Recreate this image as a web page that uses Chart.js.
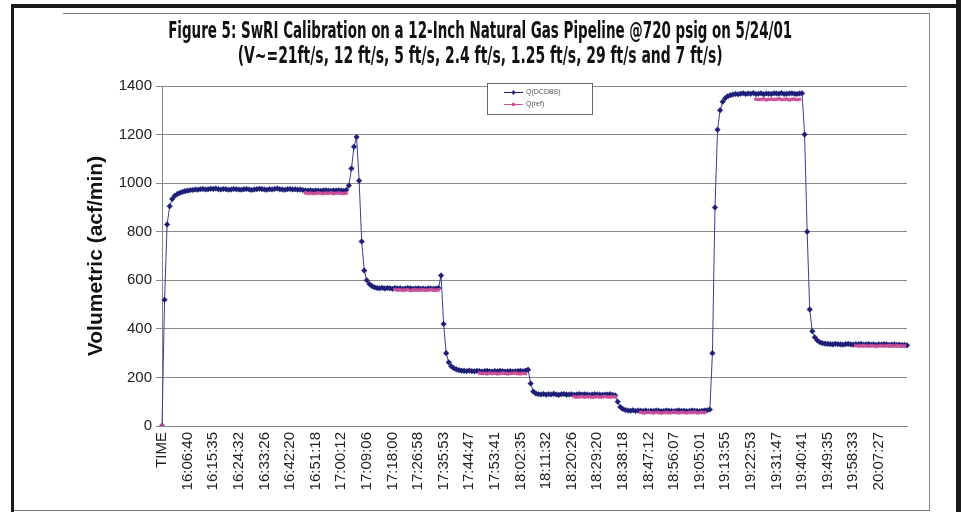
<!DOCTYPE html>
<html><head><meta charset="utf-8">
<script src="https://cdn.jsdelivr.net/npm/chart.js@4.4.1/dist/chart.umd.min.js"></script>
<style>
html,body{margin:0;padding:0;background:#fff;width:961px;height:512px;overflow:hidden;}
#wrap{position:relative;width:961px;height:512px;background:#fff;}
canvas{position:absolute;left:0;top:0;}
.b{position:absolute;}
.t{position:absolute;left:0;width:961px;text-align:center;white-space:nowrap;font-family:"Liberation Sans Narrow","DejaVu Sans Condensed",sans-serif;font-weight:bold;font-size:23px;color:#111;line-height:24px;}
.t span{display:inline-block;transform-origin:center center;}
</style></head><body>
<div id="wrap">
<canvas id="c" width="961" height="512"></canvas>
<div class="b" style="left:11px;top:4px;width:950px;height:4px;background:#1a1a1a"></div>
<div class="b" style="left:11px;top:4px;width:3px;height:508px;background:#1a1a1a"></div>
<div class="b" style="left:956px;top:0;width:5px;height:512px;background:#1a1a1a"></div>
<div class="b" style="left:63px;top:13px;width:867px;height:1px;background:#777"></div>
<div class="b" style="left:929px;top:13px;width:1px;height:498px;background:#888"></div>
<div class="b" style="left:14px;top:510px;width:916px;height:1px;background:#777"></div>
<div class="t" id="t1" style="top:18px"><span>Figure 5: SwRI Calibration on a 12-Inch Natural Gas Pipeline @720 psig on 5/24/01</span></div>
<div class="t" id="t2" style="top:43px"><span>(V~=21ft/s, 12 ft/s, 5 ft/s, 2.4 ft/s, 1.25 ft/s, 29 ft/s and 7 ft/s)</span></div>
</div>
<script>
const tickLabels = ['TIME','16:06:40','16:15:35','16:24:32','16:33:26','16:42:20','16:51:18','17:00:12','17:09:06','17:18:00','17:26:58','17:35:53','17:44:47','17:53:41','18:02:35','18:11:32','18:20:26','18:29:20','18:38:18','18:47:12','18:56:07','19:05:01','19:13:55','19:22:53','19:31:47','19:40:41','19:49:35','19:58:33','20:07:27'];

const seriesNames = ['Q(DCDBS)', 'Q(ref)'];

const qDcdbs = [
0,520,830,905,935,948,955,960,964,967,969,
971,972,974,973,975,976,974,975,977,976,
978,975,974,976,975,973,974,976,975,974,
973,975,976,974,972,974,975,977,976,974,
973,975,974,976,978,975,974,973,975,976,
974,975,973,974,972,
970,969,971,968,970,969,968,970,971,969,968,970,969,971,970,968,972,990,
1060,1150,1190,1010,760,640,600,585,576,571,
568,567,569,566,568,567,565,568,566,567,565,566,568,567,565,566,567,565,566,564,567,566,565,566,568,
620,420,300,262,246,238,233,230,228,227,226,
228,226,225,227,226,224,226,227,225,224,226,225,227,226,224,225,226,224,225,226,227,225,228,
232,175,142,134,131,130,132,129,131,130,
133,130,128,131,132,129,130,131,128,130,132,129,131,130,128,129,131,130,129,128,130,129,131,128,126,
100,78,70,66,64,63,65,62,64,
63,62,64,61,63,62,64,63,61,62,64,63,62,61,63,64,62,63,61,62,64,63,62,61,63,64,65,68,
300,900,1220,1300,1335,1350,1358,1362,1365,
1367,1366,1368,1370,1367,1369,1368,1371,1367,1368,1370,1366,1369,1368,1367,1370,1369,1368,1371,1367,1368,1369,1370,1368,1367,1369,1370,
1200,800,480,390,365,352,345,341,339,
338,337,336,338,337,336,335,337,338,336,335,337,336,338,335,336,337,335,336,334,336,335,337,336,334,335,336,334,335,333,334,332
];

// reference-meter readings: each run starts at the given sample index
const refStarts = [0, 56, 91, 124, 161, 187, 232, 271];
const refRun0 = [0];
const refRun1 = [960,958,959,957,958,960,958,957,959,958,960,957,958,959,958,957,959];
const refRun2 = [562,560,561,559,560,562,558,560,561,559,560,561,559,560,562,560,559,561];
const refRun3 = [218,216,217,215,218,216,217,215,216,218,217,215,216,217,218,216,215,217,216];
const refRun4 = [121,119,120,122,119,120,121,118,120,121,119,120,122,120,119,121,120];
const refRun5 = [56,54,55,57,55,54,56,55,53,55,56,54,55,57,55,54,56,55,54,56,55,57,54,55,56,55];
const refRun6 = [1346,1344,1345,1347,1343,1345,1346,1344,1345,1347,1344,1345,1346,1343,1345,1346,1344,1345];
const refRun7 = [331,329,330,332,330,329,331,330,328,330,331,329,330,332,330,329,331,330,329,330];
const refRuns = [refRun0, refRun1, refRun2, refRun3, refRun4, refRun5, refRun6, refRun7];

const qRef = new Array(qDcdbs.length).fill(null);
refRuns.forEach((run, k) => run.forEach((v, j) => { qRef[refStarts[k] + j] = v; }));

const sampleIdx = qDcdbs.map((_, i) => i);
const LABEL_EVERY = 10;

const BLUE = '#1e1e78';
const PINK = '#cc4f98';

const boxLegend = {
  id: 'boxLegend',
  afterDraw(chart) {
    const ctx = chart.ctx;
    ctx.save();
    const x = 487, y = 83, w = 105, h = 31;
    ctx.fillStyle = '#fff';
    ctx.fillRect(x, y, w, h);
    ctx.strokeStyle = '#666';
    ctx.lineWidth = 1;
    ctx.strokeRect(x + 0.5, y + 0.5, w, h);
    const items = [
      {label: seriesNames[0], color: BLUE, style: 'd'},
      {label: seriesNames[1], color: PINK, style: 's'}
    ];
    items.forEach((it, k) => {
      const yy = y + 9 + k * 12;
      ctx.strokeStyle = it.color;
      ctx.beginPath(); ctx.moveTo(x + 17, yy + 0.5); ctx.lineTo(x + 36, yy + 0.5); ctx.stroke();
      ctx.fillStyle = it.color;
      if (it.style === 'd') {
        ctx.beginPath(); ctx.moveTo(x + 26.5, yy - 2); ctx.lineTo(x + 28.5, yy + 0.5); ctx.lineTo(x + 26.5, yy + 3); ctx.lineTo(x + 24.5, yy + 0.5); ctx.closePath(); ctx.fill();
      } else {
        ctx.fillRect(x + 25, yy - 1, 3, 3);
      }
      ctx.fillStyle = '#555';
      ctx.font = '7px "Liberation Sans", Arial, sans-serif';
      ctx.textBaseline = 'middle';
      ctx.fillText(it.label, x + 39, yy + 0.5);
    });
    ctx.restore();
  }
};

new Chart(document.getElementById('c'), {
  type: 'line',
  data: {
    labels: sampleIdx,
    datasets: [
      {
        label: seriesNames[1], data: qRef, borderColor: '#d77fb4', borderWidth: 1,
        pointStyle: 'rect', pointRadius: 2, pointBackgroundColor: PINK, pointBorderColor: PINK, pointBorderWidth: 0.5,
        spanGaps: false, tension: 0
      },
      {
        label: seriesNames[0], data: qDcdbs, borderColor: '#3c3c90', borderWidth: 1,
        pointStyle: 'rectRot', pointRadius: 2.8, pointBackgroundColor: BLUE, pointBorderColor: BLUE, pointBorderWidth: 0.5,
        tension: 0
      }
    ]
  },
  options: {
    responsive: false, animation: false, devicePixelRatio: 1,
    locale: 'en-US',
    layout: {padding: {top: 86, right: 54, left: 84, bottom: 0}},
    plugins: {legend: {display: false}, tooltip: {enabled: false}, title: {display: false}},
    scales: {
      x: {
        type: 'category',
        grid: {display: false, drawTicks: false},
        border: {display: true, color: '#888'},
        ticks: {
          autoSkip: false, minRotation: 90, maxRotation: 90, padding: 6,
          color: '#222', font: {family: '"Liberation Sans", Arial, sans-serif', size: 15},
          callback: (v, i) => (i % LABEL_EVERY === 0 && tickLabels[i / LABEL_EVERY] !== undefined) ? tickLabels[i / LABEL_EVERY] : ''
        },
        afterFit: (s) => { s.height = 86; }
      },
      y: {
        min: 0, max: 1400,
        grid: {color: '#8a8a8a', lineWidth: 1, tickLength: 6, drawTicks: true},
        border: {display: true, color: '#888'},
        ticks: {stepSize: 200, padding: 4, color: '#222', font: {family: '"Liberation Sans", Arial, sans-serif', size: 15},
                callback: (v) => String(v)},
        title: {display: true, text: 'Volumetric (acf/min)', color: '#111', padding: 0,
                font: {family: '"Liberation Sans", Arial, sans-serif', size: 21, weight: 'bold'}},
        afterFit: (s) => { s.width = 78; }
      }
    }
  },
  plugins: [boxLegend]
});

function fitTitle(id, target) {
  const sp = document.querySelector('#' + id + ' span');
  const w = sp.getBoundingClientRect().width;
  if (w > 0) sp.style.transform = 'scaleX(' + (target / w) + ')';
}
fitTitle('t1', 624);
fitTitle('t2', 485);
</script>
</body></html>
